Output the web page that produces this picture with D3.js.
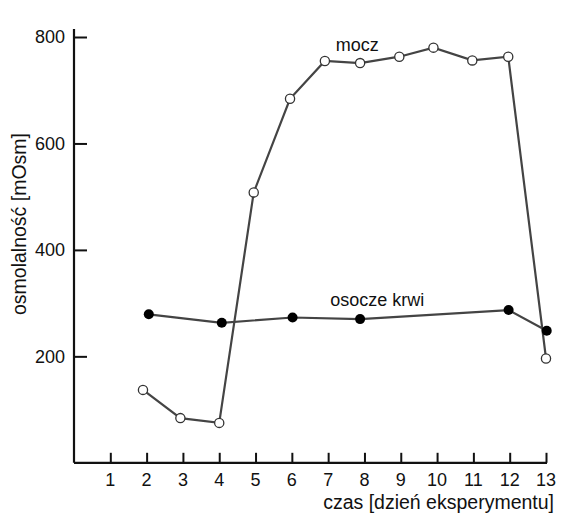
<!DOCTYPE html>
<html>
<head>
<meta charset="utf-8">
<script src="https://cdn.jsdelivr.net/npm/d3@7"></script>
<style>
  body { margin: 0; background: #fff; }
  text { font-family: "Liberation Sans", Arial, sans-serif; fill: #111; }
</style>
</head>
<body>
<div id="chart"></div>
<script>
// days (points are slightly off the ticks)
let moczDays = [1.9, 2.93, 4.0, 4.95, 5.95, 6.91, 7.88, 8.96, 9.9, 10.97, 11.96, 13.0],
    moczValues = [137, 84, 75, 508, 684, 755, 751, 763, 780, 756, 763, 196],
    osoczeDays = [2.06, 4.07, 6.02, 7.88, 11.97, 13.02],
    osoczeValues = [279, 263, 273, 270, 287, 248],
    xTicks = [1, 2, 3, 4, 5, 6, 7, 8, 9, 10, 11, 12, 13],
    yTicks = [200, 400, 600, 800];

let W = 572, H = 520;

let x = d3.scaleLinear().domain([0, 13]).range([74, 546]);
let y = d3.scaleLinear().domain([0, 800]).range([462.8, 37]);

let svg = d3.select("#chart").append("svg")
    .attr("width", W)
    .attr("height", H);

// y axis
let yAxis = svg.append("g")
    .attr("transform", "translate(" + x(0) + ",0)")
    .call(d3.axisRight(y).tickValues(yTicks).tickSize(13).tickFormat(""));
yAxis.select(".domain").remove();
yAxis.selectAll("line").attr("stroke", "#111").attr("stroke-width", 2);
svg.append("line")
    .attr("x1", x(0)).attr("x2", x(0))
    .attr("y1", y(815)).attr("y2", y(0))
    .attr("stroke", "#111").attr("stroke-width", 2.2);
svg.selectAll(".ylab")
    .data(yTicks)
    .enter().append("text")
    .attr("class", "ylab")
    .attr("x", 65)
    .attr("y", function (d) { return y(d); })
    .attr("dy", "0.35em")
    .style("text-anchor", "end")
    .style("font-size", "18px")
    .text(function (d) { return d; });

// x axis
let xAxis = svg.append("g")
    .attr("transform", "translate(0," + y(0) + ")")
    .call(d3.axisTop(x).tickValues(xTicks).tickSize(10).tickFormat(""));
xAxis.select(".domain").remove();
xAxis.selectAll("line").attr("stroke", "#111").attr("stroke-width", 2);
svg.append("line")
    .attr("x1", x(0)).attr("x2", x(13) + 1)
    .attr("y1", y(0)).attr("y2", y(0))
    .attr("stroke", "#111").attr("stroke-width", 2.2);
svg.selectAll(".xlab")
    .data(xTicks)
    .enter().append("text")
    .attr("class", "xlab")
    .attr("x", function (d) { return x(d); })
    .attr("y", 480)
    .attr("dy", "0.35em")
    .style("text-anchor", "middle")
    .style("font-size", "18px")
    .text(function (d) { return d; });

// axis titles
svg.append("text")
    .attr("x", 554)
    .attr("y", 502)
    .attr("dy", "0.35em")
    .style("text-anchor", "end")
    .style("font-size", "19.5px")
    .text("czas [dzień eksperymentu]");
svg.append("text")
    .attr("transform", "translate(19,224) rotate(-90)")
    .attr("dy", "0.35em")
    .style("text-anchor", "middle")
    .style("font-size", "19.5px")
    .text("osmolalność [mOsm]");

let line = d3.line()
    .x(function (d) { return x(d[0]); })
    .y(function (d) { return y(d[1]); });

let mocz = moczDays.map(function (d, i) { return [d, moczValues[i]]; });
let osocze = osoczeDays.map(function (d, i) { return [d, osoczeValues[i]]; });

svg.append("path")
    .datum(osocze)
    .attr("d", line)
    .attr("fill", "none")
    .attr("stroke", "#444")
    .attr("stroke-width", 2.2);
svg.append("path")
    .datum(mocz)
    .attr("d", line)
    .attr("fill", "none")
    .attr("stroke", "#444")
    .attr("stroke-width", 2.2);

svg.selectAll(".osocze")
    .data(osocze)
    .enter().append("circle")
    .attr("class", "osocze")
    .attr("cx", function (d) { return x(d[0]); })
    .attr("cy", function (d) { return y(d[1]); })
    .attr("r", 5)
    .attr("fill", "#000");

svg.selectAll(".mocz")
    .data(mocz)
    .enter().append("circle")
    .attr("class", "mocz")
    .attr("cx", function (d) { return x(d[0]); })
    .attr("cy", function (d) { return y(d[1]); })
    .attr("r", 4.6)
    .attr("fill", "#fff")
    .attr("stroke", "#333")
    .attr("stroke-width", 1.3);

// series labels
svg.append("text")
    .attr("x", x(7.8))
    .attr("y", 45)
    .attr("dy", "0.35em")
    .style("text-anchor", "middle")
    .style("font-size", "18px")
    .text("mocz");
svg.append("text")
    .attr("x", x(8.35))
    .attr("y", 300)
    .attr("dy", "0.35em")
    .style("text-anchor", "middle")
    .style("font-size", "18px")
    .text("osocze krwi");
</script>
</body>
</html>
